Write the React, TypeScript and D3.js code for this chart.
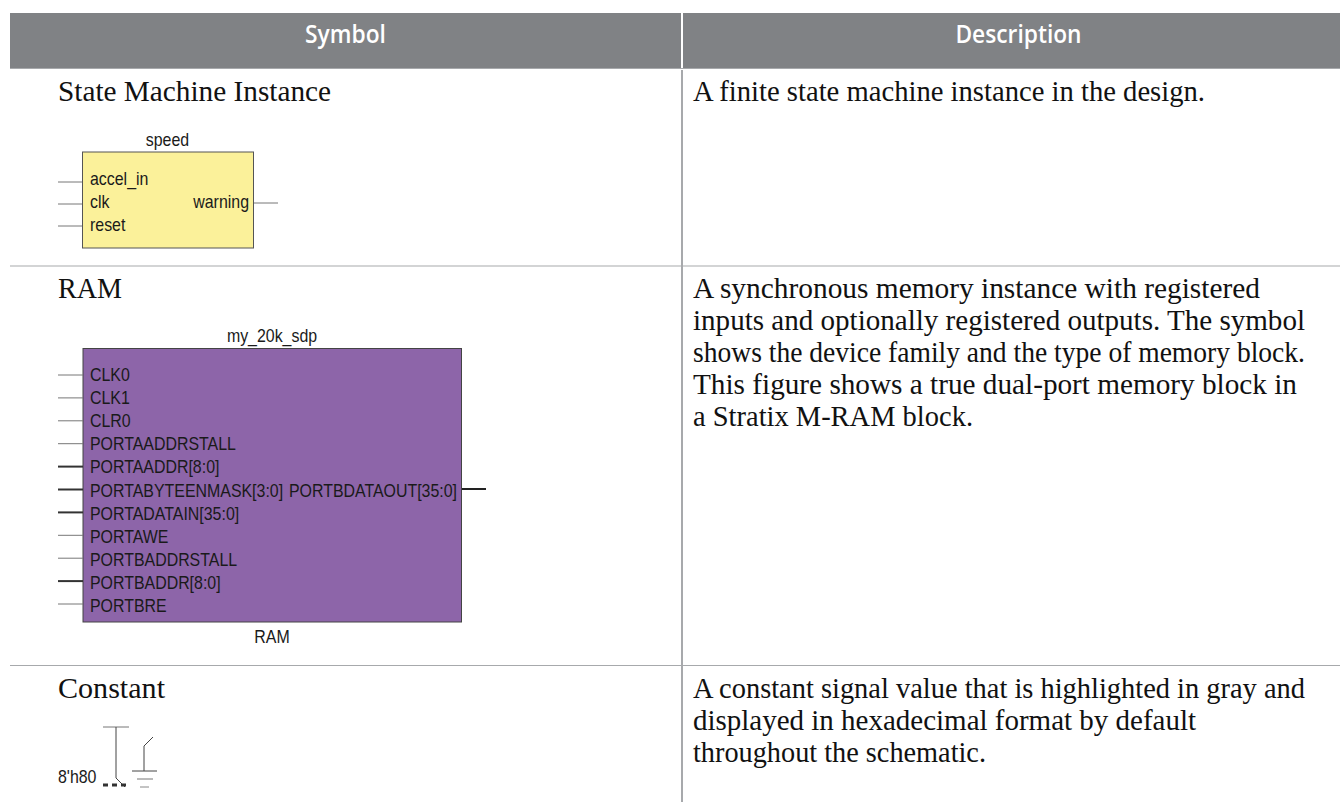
import React from "react";
import * as d3 from "d3";

const headers = ["Symbol", "Description"];
const rowTitles = ["State Machine Instance", "RAM", "Constant"];
const desc0 = ["A finite state machine instance in the design."];
const desc1 = [
  "A synchronous memory instance with registered",
  "inputs and optionally registered outputs. The symbol",
  "shows the device family and the type of memory block.",
  "This figure shows a true dual-port memory block in",
  "a Stratix M-RAM block.",
];
const desc2 = [
  "A constant signal value that is highlighted in gray and",
  "displayed in hexadecimal format by default",
  "throughout the schematic.",
];
const fsmPorts = ["accel_in", "clk", "reset"];
const ramPorts = [
  "CLK0", "CLK1", "CLR0", "PORTAADDRSTALL", "PORTAADDR[8:0]", "PORTABYTEENMASK[3:0]",
  "PORTADATAIN[35:0]", "PORTAWE", "PORTBADDRSTALL", "PORTBADDR[8:0]", "PORTBRE",
];
const ramBus = [false, false, false, false, true, true, true, false, false, true, false];

// layout only: measured text widths, so the substitute serif keeps the reference's line ends
const titleWidths = [273, 64, 107];
const desc0Widths = [512];
const desc1Widths = [567, 612, 612, 604, 280];
const desc2Widths = [612, 503, 293];

const SERIF = "'Liberation Serif', serif";
const SANS = "'Liberation Sans', sans-serif";
const HEAD = "'Open Sans', sans-serif";

const fsmY = d3.scalePoint<string>().domain(fsmPorts).range([182, 226]);
const fsmLabelY = d3.scalePoint<string>().domain(fsmPorts).range([185, 231]);
const ramY = d3.scalePoint<string>().domain(ramPorts).range([375, 604]);
const ramLabelY = d3.scalePoint<string>().domain(ramPorts).range([381, 612]);
const lineY = d3.scaleLinear().domain([0, 1]).range([0, 32]);
const seg = d3.line<[number, number]>();

function Port({ x1, x2, y, w = 1, c = "#777" }: any) {
  return <line x1={x1} x2={x2} y1={y} y2={y} stroke={c} strokeWidth={w} />;
}
function Small({ x, y, children, anchor = "start" }: any) {
  return (
    <text
      transform={`translate(${x},${y}) scale(0.91,1)`}
      textAnchor={anchor}
      fontFamily={SANS}
      fontSize={17.5}
      fill="#1a1a1a"
    >
      {children}
    </text>
  );
}
function Body({ x, y, lines, widths }: any) {
  return (
    <>
      {lines.map((t: string, i: number) => (
        <text
          key={i}
          x={x}
          y={y + lineY(i)}
          fontFamily={SERIF}
          fontSize={29.5}
          fill="#111"
          textLength={widths[i]}
          lengthAdjust="spacingAndGlyphs"
        >
          {t}
        </text>
      ))}
    </>
  );
}
function Head({ x, children }: any) {
  return (
    <text
      transform={`translate(${x},43) scale(0.91,1)`}
      textAnchor="middle"
      fontFamily={HEAD}
      fontWeight={600}
      fontSize={25}
      fill="#fff"
    >
      {children}
    </text>
  );
}

export default function App() {
  return (
    <svg width={1340} height={802} style={{ position: "absolute", left: 0, top: 0 }}>
      <rect width={1340} height={802} fill="#fff" />
      <rect x={10} y={13} width={1330} height={55} fill="#808285" />
      <rect x={681} y={13} width={2} height={55} fill="#fff" />
      <Head x={345.5}>{headers[0]}</Head>
      <Head x={1018.5}>{headers[1]}</Head>
      <line x1={10} x2={1340} y1={68.5} y2={68.5} stroke="#a7a9ac" strokeWidth={1} />
      <line x1={10} x2={1340} y1={266} y2={266} stroke="#a7a9ac" strokeWidth={1.2} />
      <line x1={10} x2={1340} y1={665.5} y2={665.5} stroke="#a7a9ac" strokeWidth={1.2} />
      <line x1={682} x2={682} y1={70} y2={802} stroke="#a7a9ac" strokeWidth={2} />

      <Body x={58} y={101} lines={[rowTitles[0]]} widths={[titleWidths[0]]} />
      <Body x={58} y={298} lines={[rowTitles[1]]} widths={[titleWidths[1]]} />
      <Body x={58} y={698} lines={[rowTitles[2]]} widths={[titleWidths[2]]} />
      <Body x={693} y={101} lines={desc0} widths={desc0Widths} />
      <Body x={693} y={298} lines={desc1} widths={desc1Widths} />
      <Body x={693} y={698} lines={desc2} widths={desc2Widths} />

      {/* FSM */}
      <Small x={167.5} y={146} anchor="middle">speed</Small>
      <rect x={82.5} y={152} width={171} height={96} fill="#fbf19a" stroke="#555" strokeWidth={1} />
      {fsmPorts.map((p) => (
        <g key={p}>
          <Port x1={58} x2={82} y={fsmY(p)} />
          <Small x={90} y={fsmLabelY(p)}>{p}</Small>
        </g>
      ))}
      <Small x={249} y={208} anchor="end">warning</Small>
      <Port x1={254} x2={278} y={203} />

      {/* RAM */}
      <Small x={272} y={342} anchor="middle">my_20k_sdp</Small>
      <rect x={83} y={348.5} width={378.5} height={273.5} fill="#8d65a9" stroke="#444" strokeWidth={1} />
      {ramPorts.map((p, i) => (
        <g key={p}>
          <Port x1={58} x2={83} y={ramY(p)} w={ramBus[i] ? 2 : 1} c={ramBus[i] ? "#333" : "#777"} />
          <Small x={90} y={ramLabelY(p)}>{p}</Small>
        </g>
      ))}
      <Small x={457} y={497} anchor="end">PORTBDATAOUT[35:0]</Small>
      <Port x1={462} x2={486} y={489} w={2} c="#222" />
      <Small x={272} y={643} anchor="middle">RAM</Small>

      {/* Constant */}
      <Small x={58} y={783}>8'h80</Small>
      <g fill="none" stroke="#444">
        <line x1={103} x2={129} y1={727} y2={727} stroke="#777" />
        <path d={seg([[116, 727], [116, 778], [125, 787]]) as string} />
        <line x1={103} x2={127} y1={785} y2={785} strokeWidth={3} strokeDasharray="5 4" stroke="#333" />
        <path d={seg([[153, 737], [144, 746], [144, 771]]) as string} />
        <line x1={132} x2={157} y1={771} y2={771} />
        <line x1={137} x2={153} y1={779} y2={779} stroke="#777" />
        <line x1={140} x2={149} y1={787} y2={787} stroke="#888" />
      </g>
    </svg>
  );
}
